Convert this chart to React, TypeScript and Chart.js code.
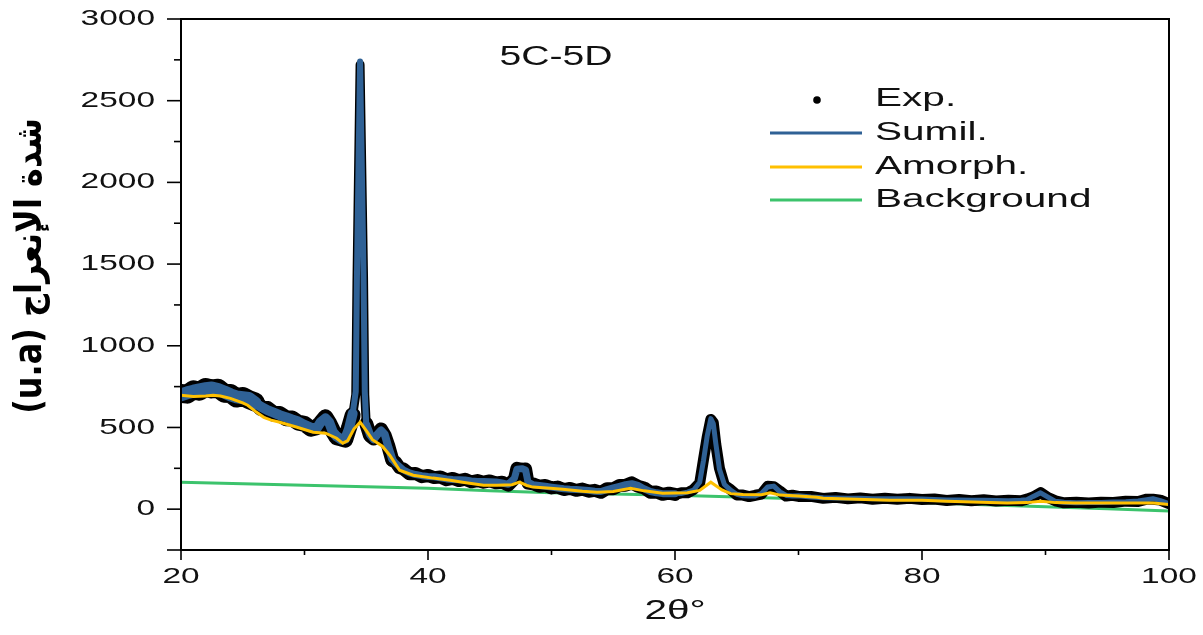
import React, { useEffect, useRef } from 'react';
import { Chart, registerables } from 'chart.js';

Chart.register(...registerables);

// ---- data ----
const twoTheta = [
  20.0, 20.5, 21.0, 21.5, 22.0, 22.5, 23.0, 23.5, 24.0, 24.5, 25.0, 25.5, 26.0, 26.5, 27.0, 27.5,
  28.0, 28.5, 29.0, 29.5, 30.0, 30.5, 31.0, 31.3, 31.7, 32.0, 32.3, 32.6, 33.0, 33.3, 33.6, 33.9,
  34.15, 34.25, 34.5, 34.78, 34.88, 35.0, 35.3, 35.6, 35.9, 36.2, 36.5, 36.8, 37.1, 37.4, 37.7, 38.0,
  38.5, 39.0, 39.5, 40.0, 40.5, 41.0, 41.5, 42.0, 42.5, 43.0, 43.5, 44.0, 44.5, 45.0, 45.5, 46.0,
  46.5, 47.0, 47.2, 47.6, 47.9, 48.1, 48.5, 49.0, 49.5, 50.0, 50.5, 51.0, 51.5, 52.0, 52.5, 53.0,
  53.5, 54.0, 54.5, 55.0, 55.5, 56.0, 56.5, 57.0, 57.5, 58.0, 58.5, 59.0, 59.5, 60.0, 60.5, 61.0,
  61.5, 62.0, 62.3, 62.6, 62.9, 63.1, 63.3, 63.6, 64.0, 64.5, 65.0, 65.5, 66.0, 66.5, 67.0, 67.5,
  68.0, 68.5, 69.0, 69.5, 70.0, 71.0, 72.0, 73.0, 74.0, 75.0, 76.0, 77.0, 78.0, 79.0, 80.0, 81.0,
  82.0, 83.0, 84.0, 85.0, 86.0, 87.0, 88.0, 88.5, 89.0, 89.6, 90.2, 90.8, 91.5, 92.5, 93.5, 94.5,
  95.5, 96.5, 97.5, 98.2, 98.7, 99.3, 100.0,
];

const expCounts = [
  708, 704, 730, 722, 745, 736, 740, 710, 708, 680, 690, 670, 656, 618, 613, 584,
  582, 557, 555, 529, 522, 493, 502, 525, 562, 525, 478, 440, 432, 425, 497, 575,
  700, 1400, 2720, 1420, 700, 523, 451, 433, 451, 488, 449, 383, 301, 286, 254, 246,
  216, 218, 199, 206, 193, 197, 180, 188, 175, 183, 167, 175, 165, 173, 161, 165,
  147, 185, 250, 243, 246, 160, 155, 140, 145, 130, 135, 120, 127, 115, 123, 110,
  115, 103, 125, 125, 145, 146, 161, 140, 130, 103, 105, 91, 98, 90, 100, 100,
  120, 160, 300, 438, 549, 530, 398, 250, 146, 120, 87, 86, 77, 85, 92, 140,
  137, 110, 80, 85, 78, 78, 66, 72, 63, 69, 61, 67, 61, 66, 59, 62,
  53, 59, 51, 57, 50, 55, 51, 61, 75, 101, 71, 51, 39, 42, 38, 43,
  41, 49, 47, 61, 61, 55, 33,
];

const sumilCounts = [
  700, 712, 722, 730, 737, 742, 732, 717, 700, 687, 682, 677, 650, 626, 606, 591,
  575, 563, 549, 536, 516, 499, 496, 531, 556, 531, 471, 446, 426, 431, 491, 585,
  720, 1440, 2740, 1440, 720, 517, 457, 427, 457, 482, 457, 377, 307, 280, 260, 240,
  222, 212, 205, 200, 198, 192, 185, 182, 180, 178, 172, 170, 170, 168, 166, 160,
  152, 190, 245, 248, 240, 165, 150, 145, 140, 135, 130, 125, 122, 120, 118, 115,
  110, 108, 120, 130, 140, 150, 156, 145, 125, 108, 100, 95, 94, 94, 96, 104,
  116, 165, 294, 444, 554, 524, 404, 244, 151, 116, 91, 82, 81, 81, 96, 136,
  141, 106, 84, 81, 82, 74, 70, 68, 66, 66, 64, 64, 64, 63, 62, 59,
  56, 56, 54, 54, 53, 52, 54, 58, 78, 100, 74, 48, 42, 39, 41, 40,
  44, 46, 50, 58, 64, 52, 33,
];

const amorphTheta = [
  20, 21, 22, 22.6, 23.2, 24, 25, 25.4, 26, 26.7, 27.3, 28, 29.4, 30.7, 31.7, 32.6,
  33.1, 33.5, 34, 34.5, 35, 35.5, 36.3, 36.9, 37.7, 38.8, 40.4, 41.8, 42.8, 44.5, 45.6, 46.8,
  47.4, 48, 48.5, 49.9, 50.9, 52.5, 53.7, 55, 56.4, 57.5, 59, 61, 62, 62.9, 63.8, 64.5,
  65.5, 67, 67.7, 68.5, 70, 71.5, 72, 77.4, 80, 82, 86.9, 88.5, 89.6, 90.8, 92.3, 98.7, 100,
];
const amorphCounts = [
  697, 690, 692, 697, 692, 678, 650, 636, 600, 562, 545, 532, 501, 471, 465, 434,
  403, 420, 490, 532, 480, 425, 385, 330, 238, 208, 190, 177, 165, 147, 147, 150,
  165, 145, 135, 128, 122, 110, 104, 108, 128, 112, 98, 100, 115, 165, 118, 95,
  90, 88, 100, 86, 80, 73, 67, 55, 55, 49, 37, 40, 49, 40, 37, 37, 28,
];

const bgTheta = [20, 25, 30, 35, 40, 45, 50, 55, 60, 65, 70, 75, 80, 85, 90, 95, 100];
const bgCounts = [165, 156, 146, 137, 128, 112, 101, 93, 85, 75, 63, 52, 41, 27, 14, 2, -12];

const xTickLabels = [20, 40, 60, 80, 100];
const xMinorTicks = [30, 50, 70, 90];
const yTickLabels = [0, 500, 1000, 1500, 2000, 2500, 3000];
const yMajorTicks = [-250, 0, 500, 1000, 1500, 2000, 2500, 3000];
const yMinorTicks = [250, 750, 1250, 1750, 2250, 2750];

const seriesLabels = ['Exp.', 'Sumil.', 'Amorph.', 'Background'];
const chartTitle = '5C-5D';
const xTitle = '2θ°';
const yTitle = '(u.a) شدة الإنعراج';

const COLORS = {
  exp: '#000000',
  sumil: '#2F6195',
  amorph: '#FFC000',
  bg: '#3CC36C',
  text: '#111111',
};

// line thickness of the scattered experimental band (style only)
function expBandWidth(x: number) {
  if (x < 26) return 19;
  if (x < 33.8) return 16;
  if (x < 35) return 9;
  if (x < 37) return 14;
  if (x < 60) return 13;
  return 11;
}
function sumBandWidth(x: number) {
  if (x >= 33.8 && x < 35) return 6;
  return expBandWidth(x) - 6;
}

function stretchText(
  ctx: CanvasRenderingContext2D,
  text: string,
  x: number,
  y: number,
  align: CanvasTextAlign,
  baseline: CanvasTextBaseline,
  font: string,
  sx: number,
) {
  ctx.save();
  ctx.translate(x, y);
  ctx.scale(sx, 1);
  ctx.font = font;
  ctx.textAlign = align;
  ctx.textBaseline = baseline;
  ctx.direction = 'ltr';
  ctx.fillStyle = COLORS.text;
  ctx.fillText(text, 0, 0);
  ctx.restore();
}

const decorPlugin = {
  id: 'xrdDecor',
  afterDraw(chart: any) {
    const { ctx, chartArea: a, scales } = chart;
    const xs = scales.x;
    const ys = scales.y;
    ctx.save();
    ctx.strokeStyle = '#000';
    ctx.lineWidth = 2;
    ctx.strokeRect(a.left, a.top, a.right - a.left, a.bottom - a.top);

    const seg = (x1: number, y1: number, x2: number, y2: number, w: number) => {
      ctx.lineWidth = w;
      ctx.beginPath();
      ctx.moveTo(x1, y1);
      ctx.lineTo(x2, y2);
      ctx.stroke();
    };
    yMajorTicks.forEach((v) => {
      const p = ys.getPixelForValue(v);
      seg(a.left - 14, p, a.left, p, 1.6);
    });
    yMinorTicks.forEach((v) => {
      const p = ys.getPixelForValue(v);
      seg(a.left - 7, p, a.left, p, 1.6);
    });
    xTickLabels.forEach((v) => {
      const p = xs.getPixelForValue(v);
      seg(p, a.bottom, p, a.bottom + 10, 1.6);
    });
    xMinorTicks.forEach((v) => {
      const p = xs.getPixelForValue(v);
      seg(p, a.bottom, p, a.bottom + 5, 1.6);
    });

    const tickFont = '22px "Liberation Sans", Arial, sans-serif';
    yTickLabels.forEach((v) => {
      stretchText(ctx, String(v), a.left - 26, ys.getPixelForValue(v), 'right', 'middle', tickFont, 1.52);
    });
    xTickLabels.forEach((v) => {
      stretchText(ctx, String(v), xs.getPixelForValue(v), a.bottom + 16, 'center', 'top', tickFont, 1.52);
    });

    // axis titles
    stretchText(ctx, xTitle, (a.left + a.right) / 2, a.bottom + 48, 'center', 'top', '27px "Liberation Sans", Arial, sans-serif', 1.5);

    ctx.save();
    ctx.translate(31, 266);
    ctx.rotate(-Math.PI / 2);
    ctx.scale(1, 1.15);
    ctx.font = 'bold 32px "DejaVu Sans", sans-serif';
    ctx.textAlign = 'center';
    ctx.textBaseline = 'middle';
    ctx.direction = 'ltr';
    ctx.fillStyle = '#000';
    ctx.fillText(yTitle, 0, 0);
    ctx.restore();

    // chart title inside plot
    stretchText(ctx, chartTitle, 556, 58, 'center', 'middle', '27px "Liberation Sans", Arial, sans-serif', 1.45);

    // legend
    const rows = [99, 133, 167, 200];
    const lineX1 = 770;
    const lineX2 = 862;
    const textX = 875;
    const legendFont = '26px "Liberation Sans", Arial, sans-serif';
    chart.data.datasets.forEach((ds: any, i: number) => {
      const y = rows[i];
      if (i === 0) {
        ctx.fillStyle = COLORS.exp;
        ctx.beginPath();
        ctx.arc(817, y + 1, 3.8, 0, Math.PI * 2);
        ctx.fill();
      } else {
        ctx.strokeStyle = ds.borderColor;
        seg(lineX1, y, lineX2, y, 3);
      }
      stretchText(ctx, ds.label, textX, y, 'left', 'middle', legendFont, 1.56);
    });
    ctx.restore();
  },
};

export default function App() {
  const canvasRef = useRef<HTMLCanvasElement | null>(null);

  useEffect(() => {
    if (!canvasRef.current) return;
    const expData = twoTheta.map((x, i) => ({ x, y: expCounts[i] }));
    const sumData = twoTheta.map((x, i) => ({ x, y: sumilCounts[i] }));
    const amData = amorphTheta.map((x, i) => ({ x, y: amorphCounts[i] }));
    const bgData = bgTheta.map((x, i) => ({ x, y: bgCounts[i] }));

    const chart = new Chart(canvasRef.current, {
      type: 'line',
      data: {
        datasets: [
          {
            label: seriesLabels[0],
            data: expData,
            borderColor: COLORS.exp,
            backgroundColor: COLORS.exp,
            borderWidth: 12,
            borderJoinStyle: 'round',
            borderCapStyle: 'round',
            pointRadius: 0,
            order: 3,
            segment: { borderWidth: (c: any) => expBandWidth(c.p0.parsed.x) },
          },
          {
            label: seriesLabels[1],
            data: sumData,
            borderColor: COLORS.sumil,
            borderWidth: 7,
            borderJoinStyle: 'round',
            borderCapStyle: 'round',
            pointRadius: 0,
            order: 2,
            segment: { borderWidth: (c: any) => sumBandWidth(c.p0.parsed.x) },
          },
          {
            label: seriesLabels[2],
            data: amData,
            borderColor: COLORS.amorph,
            borderWidth: 3,
            pointRadius: 0,
            order: 1,
          },
          {
            label: seriesLabels[3],
            data: bgData,
            borderColor: COLORS.bg,
            borderWidth: 3,
            pointRadius: 0,
            order: 4,
          },
        ],
      },
      options: {
        animation: false,
        responsive: false,
        devicePixelRatio: 1,
        layout: { padding: { left: 181, right: 34, top: 19, bottom: 85 } },
        scales: {
          x: { type: 'linear', min: 20, max: 100, display: false },
          y: { type: 'linear', min: -250, max: 3000, display: false },
        },
        plugins: {
          legend: { display: false },
          tooltip: { enabled: false },
          title: { display: false },
        },
        elements: { line: { tension: 0 } },
      },
      plugins: [decorPlugin],
    });
    return () => chart.destroy();
  }, []);

  return (
    <div style={{ position: 'absolute', left: 0, top: 0, width: 1203, height: 635, background: '#fff' }}>
      <canvas ref={canvasRef} width={1203} height={635} style={{ display: 'block' }} />
    </div>
  );
}
